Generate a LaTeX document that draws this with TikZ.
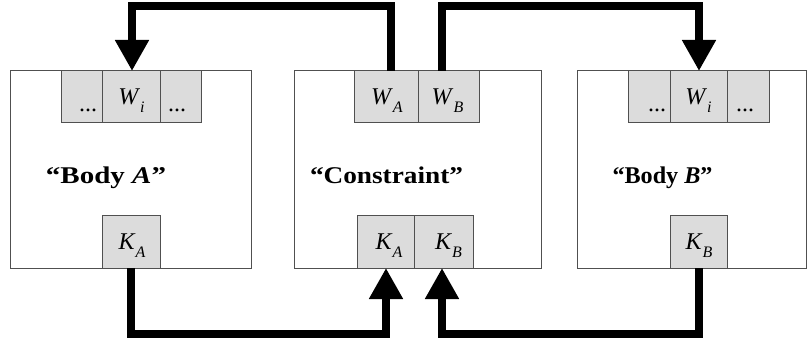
\documentclass[tikz,border=0pt]{standalone}
\usepackage{fontspec}
\usepackage{graphicx}
\setmainfont{Liberation Serif}
\usetikzlibrary{arrows.meta}
\definecolor{cellgray}{HTML}{DCDCDC}
\definecolor{edgegray}{HTML}{505050}
\newcommand{\sub}[2]{\textit{#1}\raisebox{-8pt}{\fontsize{16}{16}\selectfont\textit{#2}}}
\newcommand{\ttl}[2]{\resizebox{#1}{\height}{#2}}
\tikzset{
  bodybox/.style={draw=edgegray, line width=1pt, fill=white},
  cellbox/.style={draw=edgegray, line width=1pt, fill=cellgray},
  celltext/.style={font=\fontsize{24}{24}\selectfont, anchor=base, inner sep=0pt},
  title/.style={font=\fontsize{24}{24}\selectfont\bfseries, anchor=base, inner sep=0pt},
  conn/.style={line width=8pt, miter limit=10},
  connarrow/.style={conn, -{Triangle[width=32pt,length=31pt]}},
}
\begin{document}
\begin{tikzpicture}[x=1pt,y=-1pt]
\useasboundingbox (0,0) rectangle (809,345);
% bodies
\path[bodybox] (10,71) rectangle (251,268);
\path[bodybox] (294,71) rectangle (541,268);
\path[bodybox] (577,71) rectangle (806,268);
% body A cells
\path[cellbox] (61,71) rectangle (102,122);
\path[cellbox] (160,71) rectangle (201,122);
\path[cellbox] (102,71) rectangle (160,122);
\node[celltext] (adots1) at (88,111) {...};
\node[celltext] (adots2) at (177,111) {...};
\node[celltext] (aWi) at (131.5,104) {\sub{W}{i}};
\coordinate (aWi-n) at (132,71);
\path[cellbox] (102,215) rectangle (160,268);
\node[celltext] (aKA) at (132,249) {\sub{K}{A}};
\coordinate (aKA-s) at (131,268);
% constraint cells
\path[cellbox] (354,71) rectangle (418,122);
\path[cellbox] (418,71) rectangle (479,122);
\node[celltext] (cWA) at (387,104) {\sub{W}{A}};
\node[celltext] (cWB) at (447.5,104) {\sub{W}{B}};
\coordinate (cWA-n) at (390.5,71);
\coordinate (cWB-n) at (442,71);
\path[cellbox] (357,215) rectangle (414,268);
\path[cellbox] (414,215) rectangle (473,268);
\node[celltext] (cKA) at (389,249) {\sub{K}{A}};
\node[celltext] (cKB) at (448.5,249) {\sub{K}{B}};
\coordinate (cKA-s) at (386,268);
\coordinate (cKB-s) at (442,268);
% body B cells
\path[cellbox] (628,71) rectangle (670,122);
\path[cellbox] (727,71) rectangle (769,122);
\path[cellbox] (670,71) rectangle (727,122);
\node[celltext] (bdots1) at (657,111) {...};
\node[celltext] (bdots2) at (745,111) {...};
\node[celltext] (bWi) at (698.5,104) {\sub{W}{i}};
\coordinate (bWi-n) at (699,71);
\path[cellbox] (670,215) rectangle (727,268);
\node[celltext] (bKB) at (699,249) {\sub{K}{B}};
\coordinate (bKB-s) at (699,268);
% titles
\node[title] (tA) at (106,183) {\ttl{120pt}{“Body \textit{A}”}};
\node[title] (tC) at (386.5,183) {\ttl{153pt}{“Constraint”}};
\node[title] (tB) at (662.5,183) {\ttl{100pt}{“Body \textit{B}”}};
% connector levels
\coordinate (ytop) at (0,6.5);
\coordinate (ybot) at (0,334);
% connectors
\draw[connarrow] (cWA-n) -- (cWA-n |- ytop) -| (aWi-n);
\draw[connarrow] (cWB-n) -- (cWB-n |- ytop) -| (bWi-n);
\draw[connarrow] (aKA-s) -- (aKA-s |- ybot) -| (cKA-s);
\draw[connarrow] (bKB-s) -- (bKB-s |- ybot) -| (cKB-s);
\end{tikzpicture}
\end{document}
